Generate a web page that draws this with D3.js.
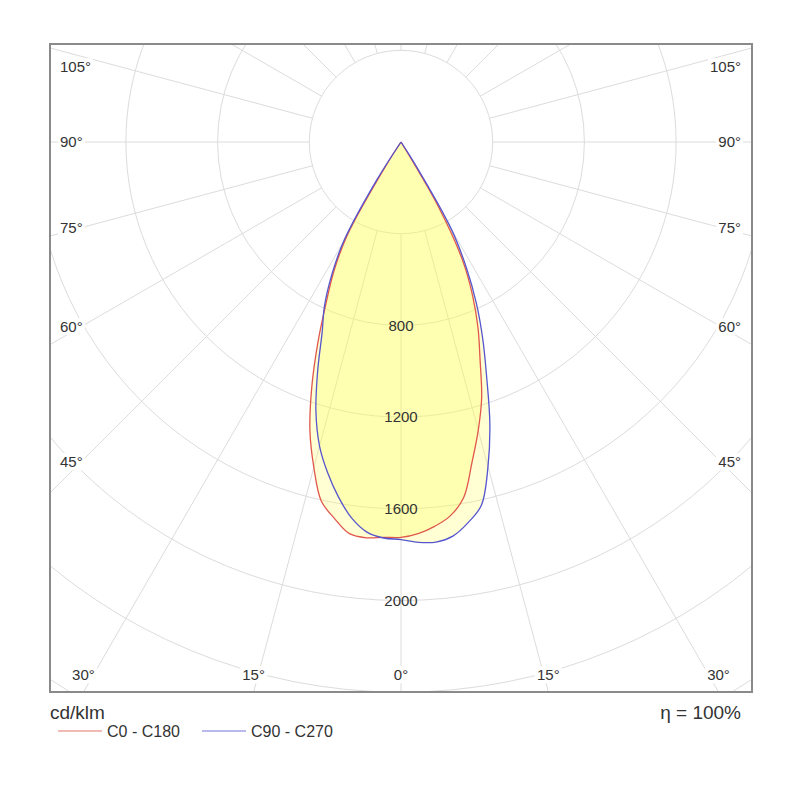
<!DOCTYPE html>
<html lang="en">
<head>
<meta charset="UTF-8">
<title>Polar luminous intensity</title>
<script src="https://d3js.org/d3.v7.min.js"></script>
<style>
  body { margin: 0; background: #fff; }
  text { font-family: "Liberation Sans", Arial, sans-serif; fill: #333; }
</style>
</head>
<body>
<script>
// gamma angles (deg) and intensities (cd/klm)
const gammas = [0, 2.5, 5, 7.5, 10, 12.5, 15, 17.5, 20, 22.5, 25, 27.5, 30, 32.5, 35, 45, 60, 75, 90];
const c0   = [1725, 1710, 1683, 1645, 1575, 1431, 1302, 1170, 1008, 878, 739, 581, 330, 0, 0, 0, 0, 0, 0];
const c180 = [1725, 1726, 1733, 1723, 1668, 1605, 1469, 1321, 1138, 948, 771, 633, 466, 120, 0, 0, 0, 0, 0];
const c90  = [1734, 1748, 1752, 1734, 1686, 1622, 1466, 1289, 1093, 933, 780, 617, 440, 100, 0, 0, 0, 0, 0];
const c270 = [1734, 1729, 1708, 1654, 1572, 1478, 1373, 1234, 1063, 899, 790, 655, 500, 200, 0, 0, 0, 0, 0];

const ringValues = [400, 800, 1200, 1600, 2000, 2400, 2800];
const ringLabels = [800, 1200, 1600, 2000];
const spokeAngles = d3.range(0, 360, 15);
const angleLabels = [0, 15, 30, 45, 60, 75, 90, 105];
const legendNames = ["C0 - C180", "C90 - C270"];
const legendColors = ["#e0574c", "#5656cf"];

const width = 800, height = 800;
const cx = 401, cy = 142;
const fx0 = 50, fy0 = 44, fx1 = 752, fy1 = 692;

const svg = d3.select("body").append("svg").attr("width", width).attr("height", height);

svg.append("defs").append("clipPath").attr("id", "frameClip")
  .append("rect").attr("x", fx0).attr("y", fy0).attr("width", fx1 - fx0).attr("height", fy1 - fy0);

// radius scale: 400 cd/klm per ring
const r = d3.scaleLinear().domain([0, 400]).range([0, 91.7]);
const rad = d => d * Math.PI / 180;

const plot = svg.append("g").attr("clip-path", "url(#frameClip)");
const g = plot.append("g").attr("transform", `translate(${cx},${cy})`);

// rings
g.selectAll(".ring").data(ringValues).join("circle")
  .attr("r", d => r(d))
  .attr("fill", "none")
  .attr("stroke", "#dcdcdc")
  .attr("stroke-width", 1);

// spokes, 0 deg pointing down, starting at the first ring
g.selectAll(".spoke").data(spokeAngles).join("line")
  .attr("x1", d => r(ringValues[0]) * Math.sin(rad(d)))
  .attr("y1", d => r(ringValues[0]) * Math.cos(rad(d)))
  .attr("x2", d => r(4000) * Math.sin(rad(d)))
  .attr("y2", d => r(4000) * Math.cos(rad(d)))
  .attr("stroke", "#dcdcdc")
  .attr("stroke-width", 1);

// build one closed curve: left half (reversed) then right half
function planePoints(right, left) {
  const pts = [];
  for (let i = gammas.length - 1; i >= 1; i--) pts.push([Math.PI + rad(gammas[i]), r(left[i])]);
  for (let i = 0; i < gammas.length; i++) pts.push([Math.PI - rad(gammas[i]), r(right[i])]);
  return pts;
}

const radial = d3.lineRadial()
  .angle(d => d[0])
  .radius(d => d[1])
  .curve(d3.curveCatmullRom.alpha(0.5));

const planes = [planePoints(c0, c180), planePoints(c90, c270)];

// fills
g.selectAll(".fill").data(planes).join("path")
  .attr("d", d => radial(d) + "Z")
  .attr("fill", "#ffff50")
  .attr("fill-opacity", 0.25)
  .attr("stroke", "none");

// ring labels on the 0 deg axis
g.selectAll(".rlab").data(ringLabels).join("text")
  .attr("x", 0)
  .attr("y", d => r(d))
  .attr("dy", "0.35em")
  .attr("text-anchor", "middle")
  .attr("font-size", 15)
  .text(d => d);

// curves
g.selectAll(".curve").data(planes).join("path")
  .attr("d", d => radial(d))
  .attr("fill", "none")
  .attr("stroke", (d, i) => legendColors[i])
  .attr("stroke-width", 1.3);

// angle labels with white boxes
const labs = [];
angleLabels.forEach(a => {
  const sides = a === 0 ? [1] : [-1, 1];
  sides.forEach(s => {
    if (a <= 30) {
      let x = cx + s * (fy1 - cy) * Math.tan(rad(a));
      labs.push({ t: a + "°", x: x, y: 675, anchor: "middle" });
    } else {
      let y = cy + (cx - 81) * Math.cos(rad(a)) / Math.sin(rad(a));
      y = Math.max(67, y);
      labs.push({ t: a + "°", x: s < 0 ? 60 : 741, y: y, anchor: s < 0 ? "start" : "end" });
    }
  });
});

const labG = svg.append("g");
labs.forEach(l => {
  const grp = labG.append("g");
  const bg = grp.append("rect").attr("fill", "#fff");
  const txt = grp.append("text")
    .attr("x", l.x).attr("y", l.y).attr("dy", "0.35em")
    .attr("text-anchor", l.anchor)
    .attr("font-size", 15)
    .text(l.t);
  let bb = txt.node().getBBox();
  // keep bottom labels inside the frame
  if (l.anchor === "middle") {
    if (bb.x < 60) { txt.attr("x", l.x + 60 - bb.x); }
    if (bb.x + bb.width > 741) { txt.attr("x", l.x - (bb.x + bb.width - 741)); }
    bb = txt.node().getBBox();
  }
  bg.attr("x", bb.x - 2).attr("y", bb.y).attr("width", bb.width + 4).attr("height", bb.height);
});

// frame
svg.append("rect")
  .attr("x", fx0).attr("y", fy0).attr("width", fx1 - fx0).attr("height", fy1 - fy0)
  .attr("fill", "none").attr("stroke", "#8a8a8a").attr("stroke-width", 2);

// units and efficiency
svg.append("text").attr("x", 50).attr("y", 719).attr("font-size", 19).text("cd/klm");
svg.append("text").attr("x", 741).attr("y", 719).attr("font-size", 19)
  .attr("text-anchor", "end").text("η = 100%");

// legend
const legX = [58, 202];
legendNames.forEach((name, i) => {
  svg.append("line")
    .attr("x1", legX[i]).attr("x2", legX[i] + 44)
    .attr("y1", 731).attr("y2", 731)
    .attr("stroke", legendColors[i]).attr("stroke-opacity", 0.55).attr("stroke-width", 1.3);
  svg.append("text").attr("x", legX[i] + 49).attr("y", 737).attr("font-size", 16).text(name);
});
</script>
</body>
</html>
